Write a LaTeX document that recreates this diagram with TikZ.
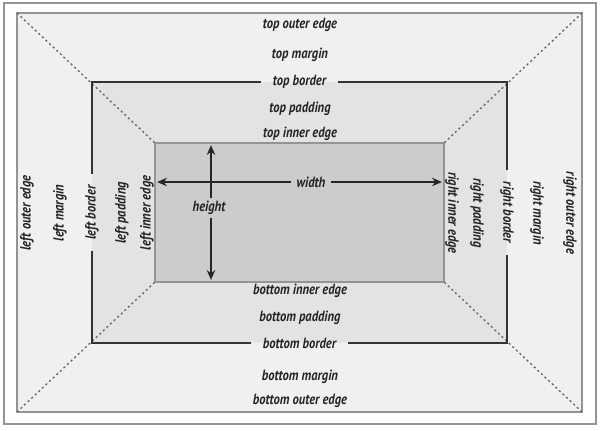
\documentclass[tikz,border=0pt]{standalone}
\usepackage{fontspec}
\newfontfamily\boxfont{PT Sans}[FakeStretch=0.85]
\usetikzlibrary{arrows.meta, fit}

\definecolor{margincol}{gray}{0.94}
\definecolor{paddingcol}{gray}{0.89}
\definecolor{contentcol}{gray}{0.80}
\definecolor{edgecol}{gray}{0.58}
\definecolor{textcol}{gray}{0.14}

\begin{document}
\begin{tikzpicture}[
    x=0.025cm, y=-0.025cm,
    lbl/.style={inner sep=1pt, text=textcol, font=\boxfont\bfseries\itshape\fontsize{10.5}{12}\selectfont},
    leftlbl/.style={lbl, rotate=90},
    rightlbl/.style={lbl, rotate=-90},
    borderlbl/.style={inner xsep=8pt},
    region/.style={inner sep=0pt, outer sep=0pt},
    diag/.style={dash pattern=on 1.5pt off 2pt, gray!85!black, line width=1pt},
    borderline/.style={line width=1.4pt, black!80},
    dim/.style={-{Stealth[length=7pt, width=6pt]}, line width=1.1pt, black!85, shorten >=1.5pt}
]

\useasboundingbox (0,0) rectangle (601,430);
\draw[edgecol, line width=0.8pt, fill=white] (4,3) rectangle (596,424);

\node[region, fit={(17,13) (582,412)}, fill=margincol, draw=edgecol, line width=1pt] (outer) {};
\node[region, fit={(92,82) (507,343)}, fill=paddingcol] (border) {};
\node[region, fit={(155,143) (444,282)}, fill=contentcol, draw=edgecol, line width=0.9pt] (inner) {};

\foreach \c in {north west, north east, south west, south east}
    \draw[diag] (outer.\c) -- (inner.\c);

\node[lbl] (topouter) at (300,25) {top outer edge};
\node[lbl] (topmargin) at (300,55) {top margin};
\node[lbl, borderlbl] (topborder) at (border.north) {top border};
\node[lbl] (toppadding) at (300,109) {top padding};
\node[lbl] (topinner) at (300,134) {top inner edge};

\node[lbl] (bottominner) at (300,291) {bottom inner edge};
\node[lbl] (bottompadding) at (300,318) {bottom padding};
\node[lbl, borderlbl] (bottomborder) at (border.south) {bottom border};
\node[lbl] (bottommargin) at (300,377) {bottom margin};
\node[lbl] (bottomouter) at (300,401) {bottom outer edge};

\node[leftlbl] (leftouter) at (27,213) {left outer edge};
\node[leftlbl] (leftmargin) at (60,213) {left margin};
\node[leftlbl, borderlbl] (leftborder) at (border.west) {left border};
\node[leftlbl] (leftpadding) at (122,213) {left padding};
\node[leftlbl] (leftinner) at (147,213) {left inner edge};

\node[rightlbl] (rightinner) at (452,213) {right inner edge};
\node[rightlbl] (rightpadding) at (477,213) {right padding};
\node[rightlbl, borderlbl] (rightborder) at (border.east) {right border};
\node[rightlbl] (rightmargin) at (537,213) {right margin};
\node[rightlbl] (rightouter) at (570,213) {right outer edge};

\draw[borderline] (topborder.east) -| (rightborder.west)
    (rightborder.east) |- (bottomborder.east)
    (bottomborder.west) -| (leftborder.west)
    (leftborder.east) |- (topborder.west);

\node[lbl, inner xsep=4pt] (width) at (311,182) {width};
\node[lbl, inner ysep=2pt] (height) at (209,208) {height};
\coordinate (cross) at (211,182);

\draw[dim] (width.west) -- (width.west -| inner.west);
\draw[dim] (width.east) -- (width.east -| inner.east);
\draw[dim] (height.north -| cross) -- (cross |- inner.north);
\draw[dim] (height.south -| cross) -- (cross |- inner.south);

\end{tikzpicture}
\end{document}
